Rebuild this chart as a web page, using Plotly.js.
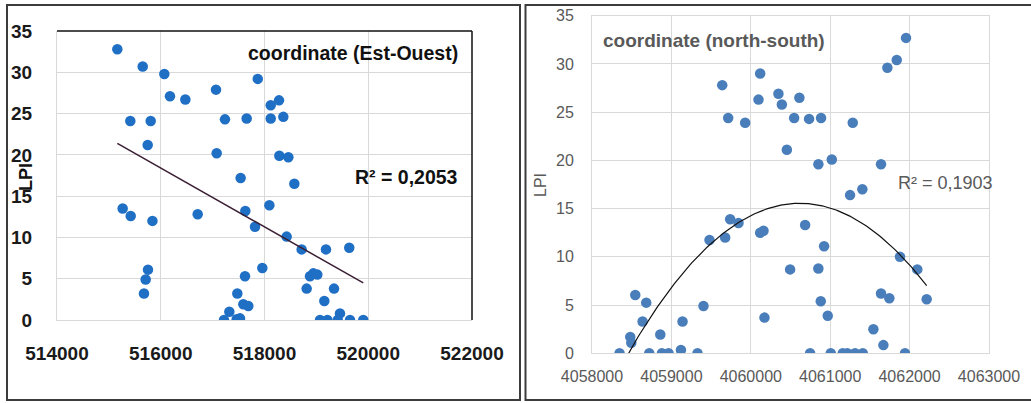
<!DOCTYPE html>
<html>
<head>
<meta charset="utf-8">
<script src="https://cdn.plot.ly/plotly-3.0.1.min.js"></script>
<style>html,body{margin:0;padding:0;background:#fff;}#chart{width:1031px;height:403px;}</style>
</head>
<body>
<div id="chart"></div>
<script>
// ---- Left panel: coordinate (Est-Ouest) ----
const leftX = [515163,515652,516069,516178,516474,515413,515806,515748,517065,517238,
  517656,517078,517540,517870,518120,518280,518120,518363,518286,518460,
  518575,515266,515421,515840,516712,517630,517817,515754,515709,515677,
  517624,517476,517592,517688,517322,517219,517464,517528,517958,518094,
  518427,518716,519185,519634,518877,518941,519018,518813,519340,519153,
  519455,519070,519212,519412,519648,519904];
const leftY = [32.8,30.7,29.8,27.1,26.7,24.1,24.1,21.2,27.9,24.3,
  24.4,20.2,17.2,29.2,26.0,26.6,24.4,24.6,19.9,19.7,
  16.5,13.5,12.6,12.0,12.8,13.2,11.3,6.1,4.9,3.2,
  5.3,3.2,1.9,1.7,1.0,0,0.1,0.2,6.3,13.9,
  10.1,8.55,8.55,8.75,5.3,5.65,5.5,3.8,3.8,2.3,
  0.8,0,0,0,0,0];

// ---- Right panel: coordinate (north-south) ----
const rightX = [4059640,4060118,4060097,4059715,4059929,4060348,4060391,4060454,4060612,4060546,
  4060734,4060885,4061284,4060851,4061020,4061640,4061250,4061405,4061720,4061838,
  4061955,4058347,4058482,4058495,4058545,4058683,4058637,4058860,4058721,4058881,
  4058964,4059120,4059140,4059329,4059404,4059480,4059677,4059740,4059845,4060118,
  4060160,4060172,4060684,4060923,4060495,4060851,4060881,4060969,4060747,4061007,
  4061158,4061216,4061313,4061410,4061544,4061670,4061640,4061745,4061879,4062097,
  4062215,4061942];
const rightY = [27.8,29.0,26.3,24.4,23.9,26.9,25.8,21.1,26.5,24.4,
  24.3,24.4,23.9,19.6,20.1,19.6,16.4,17.0,29.6,30.4,
  32.7,0,1.7,1.1,6.05,5.25,3.3,1.95,0,0,
  0,0.35,3.3,0,4.9,11.75,12.0,13.9,13.5,12.5,
  12.7,3.7,13.3,11.1,8.7,8.8,5.4,3.9,0,0,
  0,0,0,0,2.5,0.85,6.2,5.7,10.0,8.7,
  5.6,0];

const leftTitle = "coordinate (Est-Ouest)";
const rightTitle = "coordinate (north-south)";
const leftR2 = "R² = 0,2053";
const rightR2 = "R² = 0,1903";
const yTitle = "LPI";

// ---- least-squares fits computed from the data ----
function linFit(xs, ys) {
  const n = xs.length;
  const mx = xs.reduce((a,b)=>a+b,0)/n, my = ys.reduce((a,b)=>a+b,0)/n;
  let sxy=0, sxx=0;
  for (let i=0;i<n;i++){ sxy += (xs[i]-mx)*(ys[i]-my); sxx += (xs[i]-mx)*(xs[i]-mx); }
  const b = sxy/sxx; return x => my + b*(x-mx);
}
function quadFit(xs, ys) {
  const n = xs.length;
  const mx = xs.reduce((a,b)=>a+b,0)/n;
  const s = 1000;
  const u = xs.map(x => (x-mx)/s);
  let S=[0,0,0,0,0], T=[0,0,0];
  for (let i=0;i<n;i++){
    let p=1; for (let k=0;k<5;k++){ S[k]+=p; p*=u[i]; }
    T[0]+=ys[i]; T[1]+=ys[i]*u[i]; T[2]+=ys[i]*u[i]*u[i];
  }
  const M=[[S[0],S[1],S[2],T[0]],[S[1],S[2],S[3],T[1]],[S[2],S[3],S[4],T[2]]];
  for (let c=0;c<3;c++){
    for (let r=c+1;r<3;r++){ const f=M[r][c]/M[c][c]; for(let k=c;k<4;k++) M[r][k]-=f*M[c][k]; }
  }
  const co=[0,0,0];
  for (let r=2;r>=0;r--){ let v=M[r][3]; for(let k=r+1;k<3;k++) v-=M[r][k]*co[k]; co[r]=v/M[r][r]; }
  return x => { const t=(x-mx)/s; return co[0]+co[1]*t+co[2]*t*t; };
}
function sampleFit(f, xs, n) {
  const lo=Math.min(...xs), hi=Math.max(...xs), X=[], Y=[];
  for (let i=0;i<=n;i++){ const x=lo+(hi-lo)*i/n; X.push(x); Y.push(f(x)); }
  return {X, Y};
}
const lf = sampleFit(linFit(leftX, leftY), leftX, 2);
const qf = sampleFit(quadFit(rightX, rightY), rightX, 200);

const FONT = "Liberation Sans, Arial, sans-serif";
const W = 1031, H = 403;
const px = v => v/W, py = v => (H - v)/H;

const traces = [
  {x: leftX, y: leftY, type:'scatter', mode:'markers', xaxis:'x', yaxis:'y',
   marker:{color:'#1f6fc5', size:10.5}, hoverinfo:'skip'},
  {x: lf.X, y: lf.Y, type:'scatter', mode:'lines', xaxis:'x', yaxis:'y',
   line:{color:'#3a1e33', width:1.5}, hoverinfo:'skip'},
  {x: rightX, y: rightY, type:'scatter', mode:'markers', xaxis:'x2', yaxis:'y2',
   marker:{color:'#4a7ebb', size:10.5}, hoverinfo:'skip'},
  {x: qf.X, y: qf.Y, type:'scatter', mode:'lines', xaxis:'x2', yaxis:'y2',
   line:{color:'#111111', width:1.2}, hoverinfo:'skip'}
];

const layout = {
  width: W, height: H, autosize:false,
  margin:{l:0,r:0,t:0,b:0},
  paper_bgcolor:'#ffffff', plot_bgcolor:'#ffffff',
  showlegend:false,
  xaxis:{domain:[px(57), px(472)], range:[514000,522000], dtick:2000, tick0:514000,
    tickformat:'d', showgrid:true, gridcolor:'#d9d9d9', gridwidth:1, zeroline:false,
    showline:true, linecolor:'#d9d9d9', linewidth:1, ticks:'outside', ticklen:16, tickcolor:'rgba(0,0,0,0)',
    tickfont:{family:FONT, size:19, color:'#1a1a1a', weight:'bold'}, fixedrange:true, anchor:'y'},
  yaxis:{domain:[py(320), py(31)], range:[0,35], dtick:5, tick0:0,
    showgrid:true, gridcolor:'#d9d9d9', gridwidth:1, zeroline:false,
    showline:true, linecolor:'#d9d9d9', linewidth:1, ticks:'outside', ticklen:20, tickcolor:'rgba(0,0,0,0)',
    tickfont:{family:FONT, size:19, color:'#1a1a1a', weight:'bold'}, fixedrange:true, anchor:'x'},
  xaxis2:{domain:[px(592), px(989)], range:[4058000,4063000], dtick:1000, tick0:4058000,
    tickformat:'d', showgrid:true, gridcolor:'#d9d9d9', gridwidth:1, zeroline:false,
    showline:true, mirror:true, linecolor:'#d9d9d9', linewidth:1, ticks:'outside', ticklen:8, tickcolor:'rgba(0,0,0,0)',
    tickfont:{family:FONT, size:16, color:'#595959'}, fixedrange:true, anchor:'y2'},
  yaxis2:{domain:[py(353.3), py(15.7)], range:[0,35], dtick:5, tick0:0,
    showgrid:true, gridcolor:'#d9d9d9', gridwidth:1, zeroline:false,
    showline:true, mirror:true, linecolor:'#d9d9d9', linewidth:1, ticks:'outside', ticklen:14, tickcolor:'rgba(0,0,0,0)',
    tickfont:{family:FONT, size:16, color:'#595959'}, fixedrange:true, anchor:'x2'},
  shapes:[
    {type:'rect', xref:'paper', yref:'paper', x0:px(7), x1:px(520), y0:py(400), y1:py(5),
     line:{color:'#3c3c3c', width:2}},
    {type:'rect', xref:'paper', yref:'paper', x0:px(525.5), x1:px(1040), y0:py(400), y1:py(5),
     line:{color:'#3c3c3c', width:2}},
    {type:'line', xref:'x domain', yref:'y domain', x0:0, x1:1, y0:1, y1:1, line:{color:'#111', width:1.5}},
    {type:'line', xref:'x domain', yref:'y domain', x0:1, x1:1, y0:0, y1:1, line:{color:'#111', width:1.5}}
  ],
  annotations:[
    {text:leftTitle, xref:'paper', yref:'paper', x:px(460), y:py(53), xanchor:'right', yanchor:'middle',
     showarrow:false, font:{family:FONT, size:19.5, color:'#111', weight:'bold'}},
    {text:leftR2, xref:'paper', yref:'paper', x:px(460), y:py(177), xanchor:'right', yanchor:'middle',
     showarrow:false, font:{family:FONT, size:19.5, color:'#111', weight:'bold'}},
    {text:yTitle, xref:'paper', yref:'paper', x:px(26), y:py(177), xanchor:'center', yanchor:'middle', textangle:-90,
     showarrow:false, font:{family:FONT, size:18, color:'#111', weight:'bold'}},
    {text:rightTitle, xref:'paper', yref:'paper', x:px(601), y:py(40), xanchor:'left', yanchor:'middle',
     showarrow:false, font:{family:FONT, size:19, color:'#595959', weight:'bold'}},
    {text:rightR2, xref:'paper', yref:'paper', x:px(896), y:py(183), xanchor:'left', yanchor:'middle',
     showarrow:false, font:{family:FONT, size:18, color:'#595959'}},
    {text:yTitle, xref:'paper', yref:'paper', x:px(540), y:py(185), xanchor:'center', yanchor:'middle', textangle:-90,
     showarrow:false, font:{family:FONT, size:16, color:'#595959'}}
  ]
};

Plotly.newPlot('chart', traces, layout, {staticPlot:true, displayModeBar:false});
</script>
</body>
</html>
